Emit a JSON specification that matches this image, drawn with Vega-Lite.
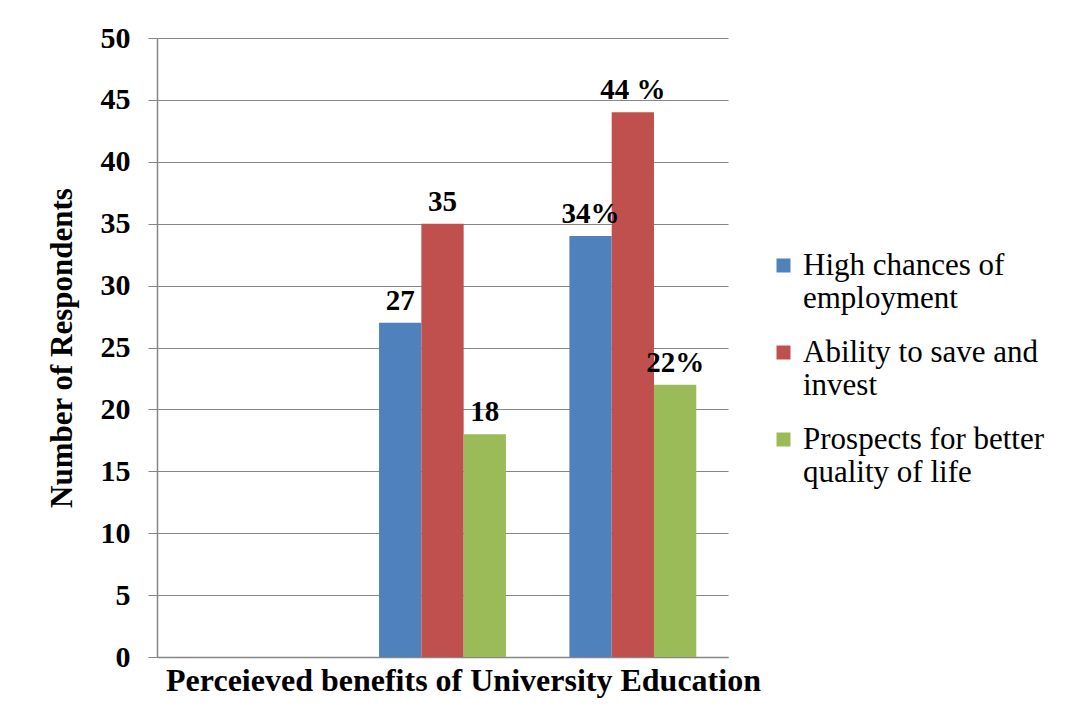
{
  "$schema": "https://vega.github.io/schema/vega-lite/v6.json",
  "autosize": {"type": "none"},
  "padding": {"left": 157, "top": 38, "right": 343, "bottom": 71},
  "width": 571,
  "height": 619,
  "background": "white",
  "data": {
    "values": [
      {"group": "B", "benefit": "High chances of employment", "respondents": 27, "label": "27"},
      {"group": "B", "benefit": "Ability to save and invest", "respondents": 35, "label": "35"},
      {"group": "B", "benefit": "Prospects for better quality of life", "respondents": 18, "label": "18"},
      {"group": "C", "benefit": "High chances of employment", "respondents": 34, "label": "34%"},
      {"group": "C", "benefit": "Ability to save and invest", "respondents": 44, "label": "44 %"},
      {"group": "C", "benefit": "Prospects for better quality of life", "respondents": 22, "label": "22%"}
    ]
  },
  "encoding": {
    "x": {
      "field": "group",
      "type": "nominal",
      "scale": {"domain": ["A", "B", "C"], "paddingInner": 0, "paddingOuter": 0},
      "axis": {
        "title": "Perceieved benefits of University Education",
        "labels": false,
        "ticks": false,
        "domainColor": "#868686",
        "domainWidth": 1.5,
        "titleFont": "Liberation Serif",
        "titleFontWeight": "bold",
        "titleFontSize": 32,
        "titleColor": "black",
        "titlePadding": 8,
        "titleX": 306
      }
    },
    "xOffset": {
      "field": "benefit",
      "type": "nominal",
      "scale": {"domain": ["High chances of employment", "Ability to save and invest", "Prospects for better quality of life"], "paddingInner": 0, "paddingOuter": 0.75}
    },
    "y": {
      "field": "respondents",
      "type": "quantitative",
      "scale": {"domain": [0, 50], "nice": false},
      "axis": {
        "title": "Number of Respondents",
        "values": [0, 5, 10, 15, 20, 25, 30, 35, 40, 45, 50],
        "tickSize": 9,
        "tickColor": "#868686",
        "domainColor": "#868686",
        "domainWidth": 1.5,
        "gridColor": "#868686",
        "gridWidth": 1.2,
        "gridOpacity": 1,
        "labelFont": "Liberation Serif",
        "labelFontWeight": "bold",
        "labelFontSize": 30,
        "labelColor": "black",
        "labelPadding": 18,
        "titleFont": "Liberation Serif",
        "titleFontWeight": "bold",
        "titleFontSize": 31,
        "titleColor": "black",
        "titlePadding": 22
      }
    }
  },
  "layer": [
    {
      "mark": {"type": "bar"},
      "encoding": {
        "color": {
          "field": "benefit",
          "type": "nominal",
          "scale": {
            "domain": ["High chances of employment", "Ability to save and invest", "Prospects for better quality of life"],
            "range": ["#4F81BD", "#C0504D", "#9BBB59"]
          },
          "legend": {
            "title": null,
            "orient": "none",
            "legendX": 611,
            "legendY": 212,
            "padding": 0,
            "symbolType": "square",
            "symbolSize": 196,
            "symbolStrokeWidth": 0,
            "symbolOpacity": 1,
            "labelFont": "Liberation Serif",
            "labelFontWeight": "normal",
            "labelFontSize": 31,
            "labelColor": "black",
            "labelLimit": 0,
            "labelOffset": 4,
            "rowPadding": 22,
            "labelExpr": "datum.value == 'High chances of employment' ? ['High chances of', 'employment'] : datum.value == 'Ability to save and invest' ? ['Ability  to save and', 'invest'] : ['Prospects  for better', 'quality of life']"
          }
        }
      }
    },
    {
      "mark": {"type": "text", "font": "Liberation Serif", "fontWeight": "bold", "fontSize": 29, "baseline": "alphabetic", "dy": -13, "color": "black"},
      "encoding": {
        "text": {"field": "label", "type": "nominal"}
      }
    }
  ],
  "config": {
    "view": {"stroke": null},
    "legend": {"labelFont": "Liberation Serif"}
  }
}
